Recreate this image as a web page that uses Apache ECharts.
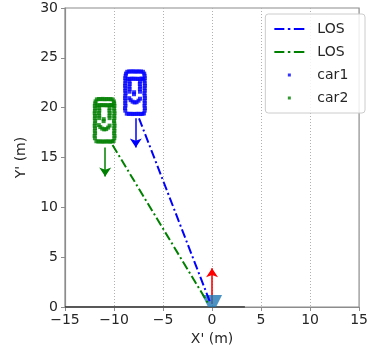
<!DOCTYPE html>
<html><head><meta charset="utf-8">
<script src="https://cdn.jsdelivr.net/npm/echarts@6/dist/echarts.min.js"></script>
<style>html,body{margin:0;padding:0;background:#fff}#c{width:371px;height:352px}</style>
</head><body><div id="c"></div>
<script>
const xTicks = [-15, -10, -5, 0, 5, 10, 15];
const yTicks = [0, 5, 10, 15, 20, 25, 30];

const car1 = [
 [-8.85,19.7],[-8.88,19.95],[-8.83,20.2],[-8.86,20.45],[-8.84,20.7],[-8.87,20.95],[-8.85,21.2],[-8.82,21.45],[-8.86,21.7],[-8.84,21.95],[-8.87,22.2],[-8.85,22.45],[-8.83,22.7],[-8.86,22.95],[-8.82,23.2],[-8.78,23.42],
 [-6.87,19.7],[-6.85,19.95],[-6.89,20.2],[-6.86,20.45],[-6.88,20.7],[-6.85,20.95],[-6.87,21.2],[-6.9,21.45],[-6.86,21.7],[-6.88,21.95],[-6.85,22.2],[-6.87,22.45],[-6.89,22.7],[-6.86,22.95],[-6.88,23.2],[-6.92,23.42],
 [-8.65,23.6],[-8.45,23.64],[-8.25,23.62],[-8.05,23.65],[-7.85,23.61],[-7.65,23.64],[-7.45,23.62],[-7.25,23.63],[-7.05,23.6],
 [-8.6,22.9],[-8.4,22.88],[-8.2,22.92],[-8.0,22.89],[-7.8,22.91],[-7.6,22.88],[-7.4,22.9],[-7.2,22.92],[-7.05,22.89],
 [-8.42,22.62],[-8.4,22.38],[-8.43,22.12],[-8.41,21.86],[-8.42,21.6],
 [-7.35,22.62],[-7.37,22.38],[-7.34,22.12],[-7.36,21.86],[-7.35,21.6],
 [-7.95,21.55],[-7.96,21.35],
 [-8.45,20.95],[-8.3,20.75],[-8.1,20.6],[-7.9,20.52],[-7.7,20.55],[-7.5,20.7],[-7.35,20.9],
 [-8.7,19.4],[-8.5,19.37],[-8.3,19.39],[-8.1,19.36],[-7.9,19.38],[-7.7,19.37],[-7.5,19.39],[-7.3,19.36],[-7.1,19.38],[-6.95,19.42]
];

const car2 = [
 [-11.95,16.93],[-11.98,17.18],[-11.93,17.43],[-11.96,17.68],[-11.94,17.93],[-11.97,18.18],[-11.95,18.43],[-11.92,18.68],[-11.96,18.93],[-11.94,19.18],[-11.97,19.43],[-11.95,19.68],[-11.93,19.93],[-11.96,20.18],[-11.92,20.43],[-11.88,20.63],
 [-9.97,16.93],[-9.95,17.18],[-9.99,17.43],[-9.96,17.68],[-9.98,17.93],[-9.95,18.18],[-9.97,18.43],[-10.0,18.68],[-9.96,18.93],[-9.98,19.18],[-9.95,19.43],[-9.97,19.68],[-9.99,19.93],[-9.96,20.18],[-9.98,20.43],[-10.02,20.63],
 [-11.75,20.83],[-11.55,20.87],[-11.35,20.85],[-11.15,20.88],[-10.95,20.84],[-10.75,20.87],[-10.55,20.85],[-10.35,20.86],[-10.15,20.83],
 [-11.7,20.25],[-11.5,20.23],[-11.3,20.27],[-11.1,20.24],[-10.9,20.26],[-10.7,20.23],[-10.5,20.25],[-10.3,20.27],[-10.15,20.24],
 [-11.52,19.95],[-11.5,19.7],[-11.53,19.45],[-11.51,19.2],[-11.52,18.95],
 [-10.45,19.95],[-10.47,19.7],[-10.44,19.45],[-10.46,19.2],[-10.45,18.95],
 [-11.05,18.85],[-11.06,18.65],
 [-11.55,18.25],[-11.4,18.05],[-11.2,17.9],[-11.0,17.82],[-10.8,17.85],[-10.6,18.0],[-10.45,18.2],
 [-11.8,16.63],[-11.6,16.6],[-11.4,16.62],[-11.2,16.59],[-11.0,16.61],[-10.8,16.6],[-10.6,16.62],[-10.4,16.59],[-10.2,16.61],[-10.05,16.65]
];

const los1 = [[-7.45, 18.93], [-0.15, 0.35]];
const los2 = [[-10.15, 16.25], [-0.35, 0.28]];
const arrow1 = [[-7.78, 18.93], [-7.78, 16.0]];
const arrow2 = [[-10.9, 16.0], [-10.9, 13.1]];
const egoArrow = [[0, 0.3], [0, 3.9]];
const egoPos = [[0, 0]];
const baseLine = [[-15, 0], [3.35, 0]];

const FONT = 'DejaVu Sans';
const fmt = v => String(v).replace('-', '\u2212');
const dotIcon = 'path://M0,0M30,14M13.5,5.5h3v3h-3z';
const dashDotIcon = 'path://M0,0M30,14M0,6h10v2h-10zM13.5,6h2.5v2h-2.5zM19.5,6h10.5v2h-10.5z';

const chart = echarts.init(document.getElementById('c'), null, {renderer: 'canvas'});
chart.setOption({
  animation: false,
  grid: {left: 65, right: 8, top: 8, bottom: 45, show: true, borderColor: '#8c8c8c', borderWidth: 1.2},
  xAxis: {
    type: 'value', min: xTicks[0], max: xTicks[xTicks.length-1], interval: 5,
    name: "X' (m)", nameLocation: 'middle', nameGap: 25,
    nameTextStyle: {fontFamily: FONT, fontSize: 14, color: '#262626'},
    axisLine: {show: true, onZero: false, lineStyle: {color: '#8c8c8c', width: 1.2}},
    axisTick: {show: true, length: 4, lineStyle: {color: '#8c8c8c'}},
    axisLabel: {formatter: fmt, fontFamily: FONT, fontSize: 14, color: '#262626', margin: 6},
    splitLine: {show: true, lineStyle: {type: [1, 2], color: '#b0b0b0', width: 1}}
  },
  yAxis: {
    type: 'value', min: yTicks[0], max: yTicks[yTicks.length-1], interval: 5,
    name: "Y' (m)", nameLocation: 'middle', nameGap: 37, nameRotate: 90,
    nameTextStyle: {fontFamily: FONT, fontSize: 14, color: '#262626'},
    axisLine: {show: true, onZero: false, lineStyle: {color: '#8c8c8c', width: 1.2}},
    axisTick: {show: true, length: 4, lineStyle: {color: '#8c8c8c'}},
    axisLabel: {formatter: fmt, fontFamily: FONT, fontSize: 14, color: '#262626', margin: 7},
    splitLine: {show: false}
  },
  legend: {
    right: 6, top: 14, orient: 'vertical',
    padding: [8, 16, 8, 9], itemGap: 9, itemWidth: 30, itemHeight: 14,
    backgroundColor: 'rgba(255,255,255,0.85)', borderColor: '#cccccc', borderWidth: 1, borderRadius: 3,
    textStyle: {fontFamily: FONT, fontSize: 14, color: '#262626', padding: [0, 0, 0, 8]},
    data: [
      {name: 'LOS', icon: dashDotIcon}, {name: 'LOS ', icon: dashDotIcon},
      {name: 'car1', icon: dotIcon}, {name: 'car2', icon: dotIcon}
    ]
  },
  series: [
    {type: 'line', data: baseLine, symbol: 'none', silent: true, z: 1,
     lineStyle: {color: '#333333', width: 1.4}},
    {type: 'lines', coordinateSystem: 'cartesian2d', z: 2, polyline: false,
     symbol: ['none', 'arrow'], symbolSize: [7, 9],
     lineStyle: {color: '#ff0000', width: 1.6, opacity: 1},
     data: [{coords: egoArrow}]},
    {type: 'scatter', data: egoPos, z: 3, clip: false,
     symbol: 'path://M0,0L20,0L14,12L6,12Z', symbolSize: [20, 12], symbolOffset: [0, -6],
     itemStyle: {color: '#1f77b4'}},
    {name: 'LOS', type: 'line', data: los1, symbol: 'none', z: 5,
     lineStyle: {color: '#0000ff', width: 2, type: [9, 3, 2, 3]}, itemStyle: {color: '#0000ff'}},
    {name: 'LOS ', type: 'line', data: los2, symbol: 'none', z: 5,
     lineStyle: {color: '#008000', width: 2, type: [9, 3, 2, 3]}, itemStyle: {color: '#008000'}},
    {type: 'lines', coordinateSystem: 'cartesian2d', z: 4, polyline: false,
     symbol: ['none', 'arrow'], symbolSize: [7, 9],
     lineStyle: {color: '#0000ff', width: 1.5, opacity: 1},
     data: [{coords: arrow1}]},
    {type: 'lines', coordinateSystem: 'cartesian2d', z: 4, polyline: false,
     symbol: ['none', 'arrow'], symbolSize: [7, 9],
     lineStyle: {color: '#008000', width: 1.5, opacity: 1},
     data: [{coords: arrow2}]},
    {name: 'car1', type: 'scatter', data: car1, symbol: 'rect', symbolSize: 4, z: 4,
     itemStyle: {color: '#0000ff'}},
    {name: 'car2', type: 'scatter', data: car2, symbol: 'rect', symbolSize: 4, z: 4,
     itemStyle: {color: '#008000'}}
  ]
});
</script></body></html>
